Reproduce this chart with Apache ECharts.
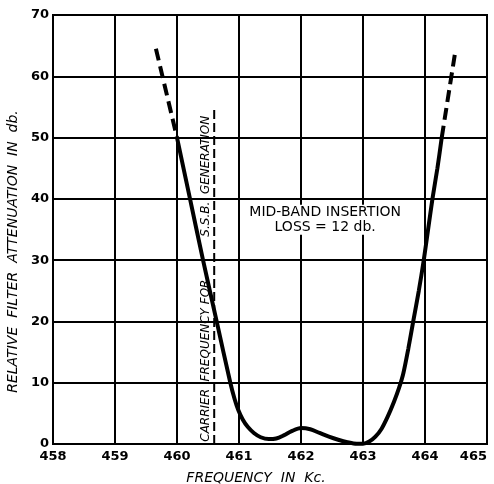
<!DOCTYPE html>
<html><head><meta charset="utf-8">
<script src="https://cdn.jsdelivr.net/npm/echarts@6/dist/echarts.min.js"></script>
<style>html,body{margin:0;padding:0;background:#fff}#c{width:494px;height:484px}</style>
</head><body><div id="c"></div>
<script>
// Data
const xTicks = [458, 459, 460, 461, 462, 463, 464, 465];
const yTicks = [0, 10, 20, 30, 40, 50, 60, 70];
const curveX = [460.0, 460.21, 460.42, 460.64, 460.86, 460.93, 460.99, 461.06, 461.14, 461.24, 461.35, 461.48, 461.6, 461.72, 461.85, 462.0, 462.15, 462.3, 462.45, 462.6, 462.75, 462.9, 463.0, 463.1, 463.2, 463.3, 463.4, 463.5, 463.58, 463.65, 463.73, 463.81, 463.9, 463.98, 464.05, 464.12, 464.2, 464.27];
const curveY = [50, 40, 30, 20, 10, 7.3, 5.5, 4.0, 2.8, 1.8, 1.1, 0.8, 0.9, 1.4, 2.1, 2.6, 2.4, 1.8, 1.2, 0.7, 0.3, 0.05, 0.05, 0.4, 1.2, 2.5, 4.5, 6.9, 9.1, 11.5, 15.5, 20, 25, 30, 35, 40, 45, 50];
const leftDashX = [459.66, 460.0];
const leftDashY = [64.5, 50];
const rightDashX = [464.27, 464.48];
const rightDashY = [50, 63.5];
const carrierX = [460.6, 460.6];
const carrierY = [0, 55];
const noteTexts = ['CARRIER  FREQUENCY FOR', 'S.S.B.  GENERATION'];
const noteX = [460.46, 460.47];
const noteY = [13.6, 43.7];
const insertionText = 'MID-BAND INSERTION\nLOSS = 12 db.';
const insertionPos = [462.39, 36.6];

const zip = (a, b) => a.map((v, i) => [v, b[i]]);
const chart = echarts.init(document.getElementById('c'));
const FONT = 'DejaVu Sans';
chart.setOption({
  animation: false,
  backgroundColor: '#fff',
  grid: { left: 53, right: 7, top: 15, bottom: 40, show: true, borderColor: '#000', borderWidth: 2,
    outerBoundsMode: 'none', containLabel: false },
  xAxis: {
    type: 'value', min: xTicks[0], max: xTicks[xTicks.length - 1], interval: 1,
    axisLine: { show: true, lineStyle: { color: '#000', width: 2 } },
    axisTick: { show: false },
    splitLine: { show: true, lineStyle: { color: '#000', width: 2 } },
    axisLabel: { color: '#000', fontFamily: FONT, fontWeight: 'bold', fontSize: 13, margin: 6, alignMaxLabel: 'right' },
    name: 'FREQUENCY  IN  Kc.', nameLocation: 'middle', nameGap: 27,
    nameTextStyle: { color: '#000', fontFamily: FONT, fontStyle: 'italic', fontSize: 14, padding: [0, 28, 0, 0] }
  },
  yAxis: {
    type: 'value', min: yTicks[0], max: yTicks[yTicks.length - 1], interval: 10,
    axisLine: { show: true, lineStyle: { color: '#000', width: 2 } },
    axisTick: { show: false },
    splitLine: { show: true, lineStyle: { color: '#000', width: 2 } },
    axisLabel: { color: '#000', fontFamily: FONT, fontWeight: 'bold', fontSize: 13, margin: 4 },
    name: 'RELATIVE  FILTER  ATTENUATION  IN  db.', nameLocation: 'middle', nameGap: 28,
    nameTextStyle: { color: '#000', fontFamily: FONT, fontStyle: 'italic', fontSize: 14, padding: [0, 44, 0, 0] }
  },
  series: [
    { type: 'line', data: zip(curveX, curveY), smooth: 0.3, symbol: 'none', z: 6,
      lineStyle: { color: '#000', width: 4 } },
    { type: 'line', data: zip(leftDashX, leftDashY), symbol: 'none',
      lineStyle: { color: '#000', width: 4, type: [12, 6] } },
    { type: 'line', data: zip(rightDashX, rightDashY), symbol: 'none',
      lineStyle: { color: '#000', width: 4, type: [12, 6] } },
    { type: 'line', data: zip(carrierX, carrierY), symbol: 'none',
      lineStyle: { color: '#000', width: 2, type: [9, 4] } },
    { type: 'scatter', symbolSize: 0, itemStyle: { color: '#000', opacity: 1 }, z: 5,
      emphasis: { disabled: true },
      data: noteTexts.map((t, i) => ({ value: [noteX[i], noteY[i]], name: t })),
      label: { show: true, position: 'inside', rotate: 90, formatter: p => p.name,
        color: '#000', opacity: 1, fontFamily: FONT, fontStyle: 'italic', fontSize: 12 } },
    { type: 'scatter', symbolSize: 0, itemStyle: { color: '#000', opacity: 1 }, z: 5,
      emphasis: { disabled: true },
      data: [{ value: insertionPos, name: insertionText }],
      label: { show: true, position: 'inside', formatter: p => p.name, align: 'center',
        color: '#000', opacity: 1, fontFamily: FONT, fontSize: 14, lineHeight: 15, backgroundColor: '#fff' } }
  ]
});
</script></body></html>
